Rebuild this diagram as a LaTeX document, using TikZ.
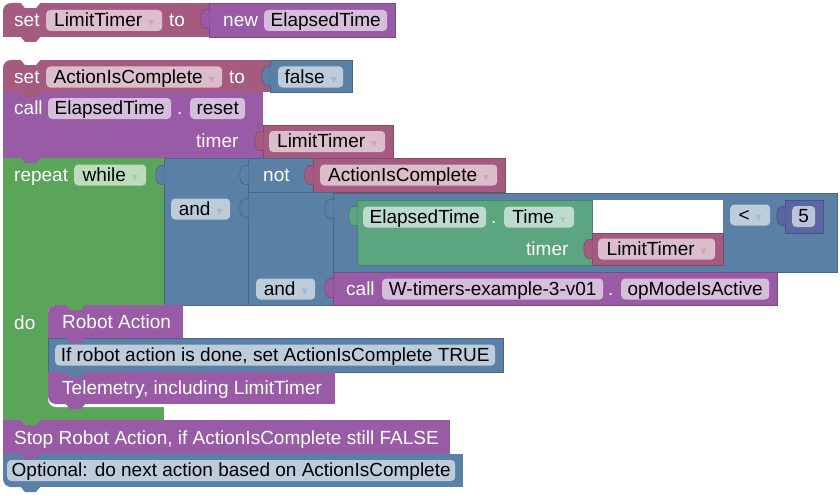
\documentclass[tikz,border=0pt]{standalone}
\usepackage{fontspec}
\setmainfont{Liberation Sans}
\newfontfamily\symf{DejaVu Sans}
\definecolor{mar}{HTML}{A55B80}
\definecolor{pur}{HTML}{995BA5}
\definecolor{blu}{HTML}{5B80A5}
\definecolor{grn}{HTML}{5BA55B}
\definecolor{tea}{HTML}{5BA580}
\definecolor{mth}{HTML}{5B67A5}
\newcommand\ddarrow[1]{\hspace{6pt}{\symf\fontsize{12}{12}\selectfont\textcolor{#1!55!white}{▾}}}
\newcommand\tlrect[5]{\fill[#1, rounded corners=8pt] (#2,#3) rectangle ({#2+30},#5);
  \fill[#1] ({#2+12},#3) rectangle (#4,#5); \fill[#1] (#2,{#3+12}) rectangle ({#2+12},#5);}
\newcommand\blrect[5]{\fill[#1, rounded corners=8pt] (#2,#3) rectangle ({#2+30},#5);
  \fill[#1] ({#2+12},#3) rectangle (#4,#5); \fill[#1] (#2,#3) rectangle ({#2+12},{#5-12});}
\newcommand\ntab[3]{\fill[#3] ({#1+17},{#2-1}) -- ({#1+22},{#2+5}) -- ({#1+33},{#2+5}) -- ({#1+38},{#2-1}) -- cycle;}
\newcommand\itab[3]{\filldraw[fill=#3, draw=#3!75!black, line width=0.5pt] ({#1+0.5},{#2+7}) .. controls ({#1-3},{#2+5}) and ({#1-9},{#2+7}) .. ({#1-8},{#2+16}) .. controls ({#1-9},{#2+25}) and ({#1-3},{#2+27}) .. ({#1+0.5},{#2+25});}
\tikzset{
  blk/.style={fill=#1, draw=#1!80!black, line width=0.5pt},
  base/.style={inner sep=0pt, text height=14pt, text depth=2pt, anchor=west, font=\fontsize{19}{21}\selectfont},
  lbl/.style={base, text=white},
  pill/.style={base, minimum height=21pt, rounded corners=4pt, text=black, fill=#1!40!white},
}
\begin{document}
\begin{tikzpicture}[x=1pt,y=-1pt]
\useasboundingbox (0,0) rectangle (840,495);
\fill[white] (0,0) rectangle (840,495);
% ---- block 1
\tlrect{mar}{3}{3}{209}{37}
\ntab{3}{3}{white}
\ntab{3}{37}{mar}
\filldraw[blk=pur] (209,3) rectangle (395,37);
\itab{209}{3}{pur}
% ---- block 2
\tlrect{mar}{3}{60}{270}{92}
\ntab{3}{60}{white}
\filldraw[blk=blu] (270,60) rectangle (352,92);
\itab{270}{60}{blu}
% ---- block 3
\fill[pur] (3,92) rectangle (263,158);
\ntab{3}{92}{mar}
\filldraw[blk=mar] (263,125) rectangle (393,158);
\itab{263}{125}{mar}
% ---- repeat block
\fill[grn] (3,158) rectangle (164,420);
\fill[white, rounded corners=8pt] (48,305) rectangle (200,407);
\ntab{3}{158}{pur}
\filldraw[blk=blu] (164,158) rectangle (248,305);
\itab{164}{159}{blu}
\filldraw[blk=blu] (248,158) rectangle (313,192);
\itab{248}{159}{blu}
\filldraw[blk=mar] (313,158) rectangle (505,192);
\itab{313}{159}{mar}
\filldraw[blk=blu] (248,192) rectangle (333,305);
\itab{248}{192}{blu}
\filldraw[blk=blu] (333,193) rectangle (837,272);
\itab{333}{193}{blu}
\fill[white] (592,199.5) rectangle (723,233);
\filldraw[blk=tea] (357,200) rectangle (592,265);
\itab{357}{200}{tea}
\filldraw[blk=mar] (592,233) rectangle (723,265);
\itab{592}{233}{mar}
\filldraw[blk=mth] (785,200) rectangle (823,233);
\itab{785}{200}{mth}
\filldraw[blk=pur] (333,272) rectangle (777,305);
\itab{333}{272}{pur}
% ---- do statements
\tlrect{pur}{48}{305}{183}{338}
\ntab{48}{305}{grn}
\filldraw[blk=blu] (48,338) rectangle (503,372);
\ntab{48}{338}{pur}
\blrect{pur}{48}{372}{335}{404}
\ntab{48}{372}{blu}
\ntab{48}{404}{pur}
% ---- after loop
\fill[pur] (3,420) rectangle (450,454);
\ntab{3}{420}{grn}
\blrect{blu}{3}{454}{463}{487}
\ntab{3}{454}{pur}
\ntab{3}{487}{blu}
% ---- texts block 1
\node[lbl] (s1) at (14,20.5) {set};
\node[pill=mar, minimum width=116pt] (v1) at (46,20.5) {LimitTimer\ddarrow{mar}};
\node[lbl] (t1) at (169,20.5) {to};
\node[lbl] (n1) at (223,20.5) {new};
\node[pill=pur, minimum width=123pt] (e1) at (264,20.5) {ElapsedTime};
% block 2
\node[lbl] (s2) at (14,77) {set};
\node[pill=mar, minimum width=176pt] (v2) at (46,77) {ActionIsComplete\ddarrow{mar}};
\node[lbl] (t2) at (229,77) {to};
\node[pill=blu, minimum width=65pt] (f2) at (278,77) {false\ddarrow{blu}};
% block 3
\node[lbl] (c3) at (14,108.5) {call};
\node[pill=pur, minimum width=123pt] (e3) at (48,108.5) {ElapsedTime};
\node[lbl] (d3) at (177,108.5) {.};
\node[pill=pur, minimum width=55pt] (r3) at (190,108.5) {reset};
\node[lbl] (tm3) at (196,141.5) {timer};
\node[pill=mar, minimum width=116pt] (v3) at (269,141.5) {LimitTimer\ddarrow{mar}};
% repeat
\node[lbl] (rp) at (14,175) {repeat};
\node[pill=grn, minimum width=72pt] (wh) at (74,175) {while\ddarrow{grn}};
\node[pill=blu, minimum width=59pt] (and1) at (171,209) {and\ddarrow{blu}};
\node[lbl] (nt) at (263,175) {not};
\node[pill=mar, minimum width=177pt] (v4) at (320,175) {ActionIsComplete\ddarrow{mar}};
\node[pill=blu, minimum width=59pt] (and2) at (256,289) {and\ddarrow{blu}};
\node[pill=tea, minimum width=123pt] (e4) at (363,217) {ElapsedTime};
\node[lbl] (d4) at (491,217) {.};
\node[pill=tea, minimum width=70pt] (tt) at (504,217) {Time\ddarrow{tea}};
\node[lbl] (tm4) at (526,249) {timer};
\node[pill=mar, minimum width=117pt] (v5) at (598,249) {LimitTimer\ddarrow{mar}};
\node[pill=blu, minimum width=40pt] (lt) at (730,215) {<\ddarrow{blu}};
\node[pill=mth, minimum width=23pt] (five) at (792,216.5) {5};
\node[lbl] (c5) at (346,289) {call};
\node[pill=pur, minimum width=221pt] (w5) at (382,289) {W-timers-example-3-v01};
\node[lbl] (d5) at (608,289) {.};
\node[pill=pur, minimum width=148pt] (op) at (621,289) {opModeIsActive};
% do
\node[lbl] (do) at (14,323) {do};
\node[lbl] (ra) at (62,322) {Robot Action};
\node[pill=blu, minimum width=440pt] (ifr) at (55,355) {If robot action is done, set ActionIsComplete TRUE};
\node[lbl] (tel) at (62,388) {Telemetry, including LimitTimer};
\node[lbl] (stp) at (14,438) {Stop Robot Action, if ActionIsComplete still FALSE};
\node[pill=blu, minimum width=448pt] (opt) at (7,470.5) {Optional: do next action based on ActionIsComplete};
\end{tikzpicture}
\end{document}
